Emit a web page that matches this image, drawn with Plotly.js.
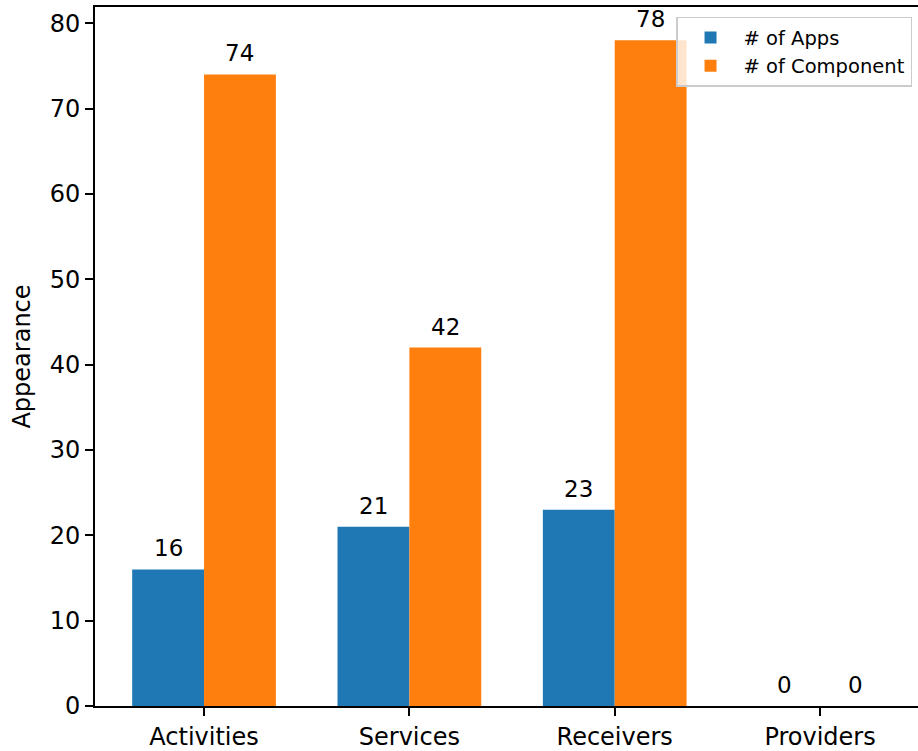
<!DOCTYPE html>
<html>
<head>
<meta charset="utf-8">
<script src="https://cdn.plot.ly/plotly-3.0.1.min.js"></script>
<style>html,body{margin:0;padding:0;background:#fff;}#chart{width:918px;height:751px;}</style>
</head>
<body>
<div id="chart"></div>
<script>
const categories = ["Activities", "Services", "Receivers", "Providers"];
const appsValues = [16, 21, 23, 0];
const componentValues = [74, 42, 78, 0];
const seriesNames = ["# of Apps", "# of Component"];
const yTickVals = [0, 10, 20, 30, 40, 50, 60, 70, 80];

const font = "DejaVu Sans, sans-serif";
const barWidth = 0.35;
const traces = [
  {type: "bar", name: seriesNames[0], x: categories.map((c, i) => i - barWidth / 2), y: appsValues,
   width: barWidth, marker: {color: "#1f77b4"}},
  {type: "bar", name: seriesNames[1], x: categories.map((c, i) => i + barWidth / 2), y: componentValues,
   width: barWidth, marker: {color: "#ff7f0e"}}
];
const annotations = [];
[appsValues, componentValues].forEach((vals, s) => {
  vals.forEach((v, i) => {
    annotations.push({x: i + (s === 0 ? -barWidth / 2 : barWidth / 2), y: v, xref: "x", yref: "y",
      text: String(v), showarrow: false, yanchor: "bottom", yshift: 6,
      font: {family: font, size: 23, color: "#000"}});
  });
});
const layout = {
  width: 918, height: 751,
  margin: {l: 95, r: 0, t: 7, b: 45},
  paper_bgcolor: "#fff", plot_bgcolor: "#fff",
  font: {family: font, size: 23, color: "#000"},
  barmode: "overlay",
  showlegend: true,
  annotations: annotations,
  legend: {x: 0.706, xanchor: "left", y: 0.986, yanchor: "top", itemwidth: 56,
    bgcolor: "rgba(255,255,255,0.8)", bordercolor: "#cccccc", borderwidth: 1.5,
    font: {family: font, size: 19.5, color: "#000"}, tracegroupgap: 0},
  xaxis: {range: [-0.531, 3.477], tickvals: categories.map((c, i) => i), ticktext: categories,
    showline: true, mirror: true, linecolor: "#000", linewidth: 2,
    ticks: "outside", ticklen: 8, tickwidth: 2, tickcolor: "#000", showgrid: false, zeroline: false,
    tickfont: {family: font, size: 24, color: "#000"}},
  yaxis: {range: [0, 81.9], tickvals: yTickVals, showline: true, linecolor: "#000", linewidth: 2,
    ticks: "outside", ticklen: 8, tickwidth: 2, tickcolor: "#000", showgrid: false, zeroline: false,
    tickfont: {family: font, size: 24, color: "#000"},
    title: {text: "Appearance", font: {family: font, size: 24, color: "#000"}, standoff: 12}}
};
Plotly.newPlot("chart", traces, layout, {displayModeBar: false, staticPlot: true});
</script>
</body>
</html>
